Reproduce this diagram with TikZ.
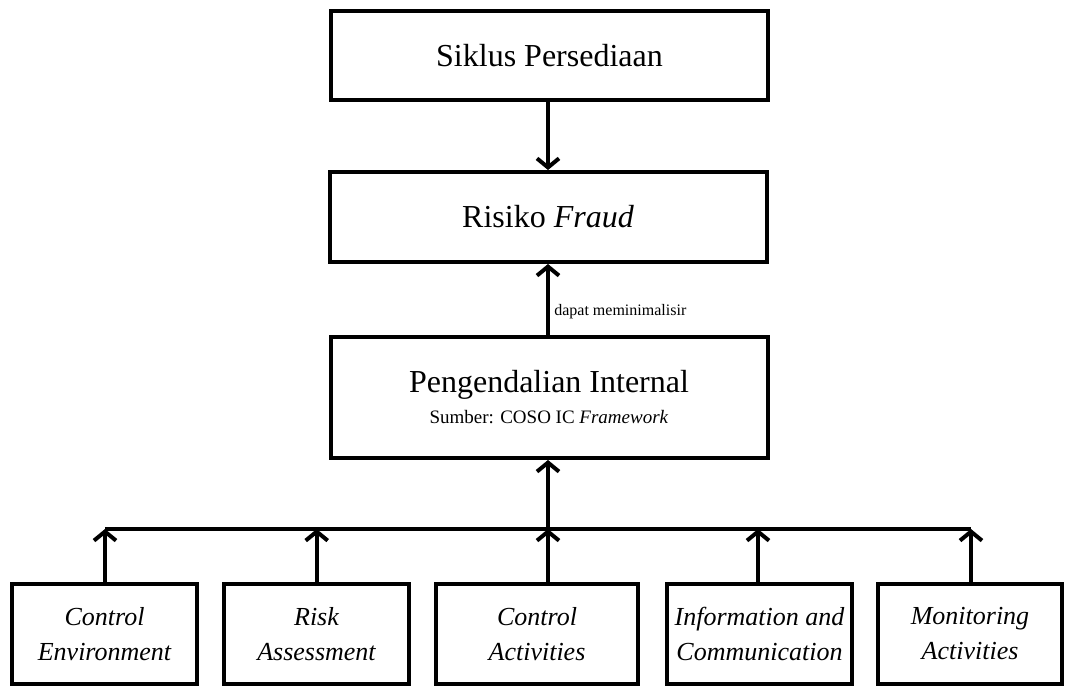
\documentclass[tikz,border=0pt]{standalone}
\usepackage{fontspec}
\setmainfont{Liberation Serif}
\usetikzlibrary{arrows.meta}
\begin{document}
\begin{tikzpicture}[x=1pt,y=-1pt,
  box/.style={draw=black, line width=4pt, rectangle, inner sep=0pt, align=center, fill=white},
  bigbox/.style={box, minimum width=437pt, font=\fontsize{32}{31}\selectfont},
  smallbox/.style={box, minimum height=100pt, font=\fontsize{26}{35}\selectfont\itshape},
  arr/.style={line width=4pt, -{Straight Barb[length=9pt,width=22pt,line width=4pt]}},
  ln/.style={line width=4pt}]
\useasboundingbox[fill=white] (0,0) rectangle (1080,686);
\node[bigbox, minimum height=89pt] (top) at (549.5,55.5) {Siklus Persediaan};
\node[bigbox, minimum height=90pt] (risk) at (548,217) {Risiko \textit{Fraud}};
\node[bigbox, minimum height=121pt] (pi) at (549,397.5) {Pengendalian Internal\\{\fontsize{19}{24}\selectfont Sumber: COSO IC \textit{Framework}}};
\node[smallbox, minimum width=185pt] (b1) at (104.5,634) {Control\\Environment};
\node[smallbox, minimum width=185pt] (b2) at (316.5,634) {Risk\\Assessment};
\node[smallbox, minimum width=202pt] (b3) at (537,634) {Control\\Activities};
\node[smallbox, minimum width=185pt] (b4) at (759.5,634) {Information and\\Communication};
\node[smallbox, minimum width=184pt] (b5) at (970,634) {Monitoring\\Activities};
\coordinate (bus) at (548,529);
\coordinate (busL) at (105,529);
\coordinate (busR) at (971,529);
\draw[arr] (548,0 |- top.south) -- (548,0 |- risk.north);
\draw[arr] (548,0 |- pi.north) -- node[right, font=\fontsize{16}{18}\selectfont, pos=0.33, xshift=1pt] {dapat meminimalisir} (548,0 |- risk.south);
\draw[arr] (bus) -- (bus |- pi.south);
\draw[ln] (busL) -- (busR);
\draw[arr] (busL |- b1.north) -- (busL);
\draw[arr] (316.7,0 |- b2.north) -- (316.7,529);
\draw[arr] (bus |- b3.north) -- (bus);
\draw[arr] (758,0 |- b4.north) -- (758,529);
\draw[arr] (busR |- b5.north) -- (busR);
\end{tikzpicture}
\end{document}
